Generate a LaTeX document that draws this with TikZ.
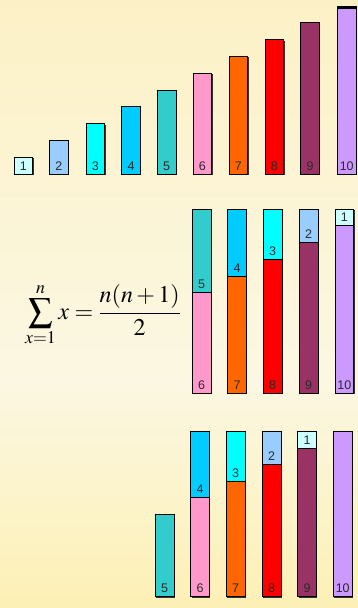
\documentclass[tikz,border=0pt]{standalone}
\usepackage{mathptmx}
\usepackage[no-math]{fontspec}
\newfontfamily\labfont{Liberation Sans}
\definecolor{bgA}{HTML}{FCF1C6}
\definecolor{bgB}{HTML}{FBF7E2}
\definecolor{bgC}{HTML}{FDF0B5}
\definecolor{c1}{HTML}{CCFFFF}
\definecolor{c2}{HTML}{99CCFF}
\definecolor{c3}{HTML}{00FFFF}
\definecolor{c4}{HTML}{00CCFF}
\definecolor{c5}{HTML}{33CCCC}
\definecolor{c6}{HTML}{FF99CC}
\definecolor{c7}{HTML}{FF6600}
\definecolor{c8}{HTML}{FF0000}
\definecolor{c9}{HTML}{993366}
\definecolor{c10}{HTML}{CC99FF}
\definecolor{labc}{HTML}{2A2A2A}
\tikzset{
  lab/.style={font=\labfont\fontsize{12.5}{14}\selectfont, text=labc, inner sep=0pt, anchor=base},
  barline/.style={draw=black, line width=1pt},
  shadowbox/.style={fill=black!80}
}
\begin{document}
\begin{tikzpicture}[x=1pt,y=-1pt]
\useasboundingbox (0,0) rectangle (358,608);
\shade[top color=bgA,bottom color=bgB] (0,0) rectangle (358,380);
\shade[top color=bgB,bottom color=bgC] (0,379.5) rectangle (358,608);

% top row
\foreach \i/\x in {1/14,2/49.5,3/86,4/121.7,5/157.3,6/193,7/229,8/265,9/300.7,10/337.3} {
  \pgfmathsetmacro\yt{174-16.8*\i}
  \fill[shadowbox] (\x+0.9,\yt+0.9) rectangle (\x+19.7,174.9);
  \draw[barline, fill=c\i] (\x,\yt) rectangle (\x+18.8,174);
  \node[lab] (t\i) at (\x+9.4,170) {\i};
}
\draw[line width=3pt] (337.3,7.5) -- (356.1,7.5);

% formula
\node[inner sep=0pt, font=\fontsize{24}{28}\selectfont] (f) at (103,315)
  {$\displaystyle\sum_{x=1}^{n} x=\frac{n(n+1)}{2}$};

% middle row
\foreach \a/\b/\x in {5/6/192.3,4/7/227.7,3/8/263.3,2/9/299.3,1/10/335} {
  \pgfmathsetmacro\yt{393.3-16.75*11}
  \pgfmathsetmacro\ym{\yt+16.75*\a}
  \fill[shadowbox] (\x+0.9,\yt+0.9) rectangle (\x+19.7,394.2);
  \draw[barline, fill=c\a] (\x,\yt) rectangle (\x+18.8,\ym);
  \draw[barline, fill=c\b] (\x,\ym) rectangle (\x+18.8,393.3);
  \node[lab] (ma\a) at (\x+9.4,\ym-4) {\a};
  \node[lab] (mb\b) at (\x+9.4,389.3) {\b};
}

% bottom row
\foreach \b/\x in {5/155.3,10/333.3} {
  \pgfmathsetmacro\yt{596.7-16.5*\b}
  \fill[shadowbox] (\x+0.9,\yt+0.9) rectangle (\x+19.7,597.6);
  \draw[barline, fill=c\b] (\x,\yt) rectangle (\x+18.8,596.7);
  \node[lab] (bb\b) at (\x+9.4,592.7) {\b};
}
\foreach \a/\b/\x in {4/6/190.7,3/7/226.3,2/8/262.3,1/9/297.7} {
  \pgfmathsetmacro\yt{596.7-16.5*10}
  \pgfmathsetmacro\ym{\yt+16.5*\a}
  \fill[shadowbox] (\x+0.9,\yt+0.9) rectangle (\x+19.7,597.6);
  \draw[barline, fill=c\a] (\x,\yt) rectangle (\x+18.8,\ym);
  \draw[barline, fill=c\b] (\x,\ym) rectangle (\x+18.8,596.7);
  \node[lab] (ba\a) at (\x+9.4,\ym-4) {\a};
  \node[lab] (bb\b) at (\x+9.4,592.7) {\b};
}
\end{tikzpicture}
\end{document}
